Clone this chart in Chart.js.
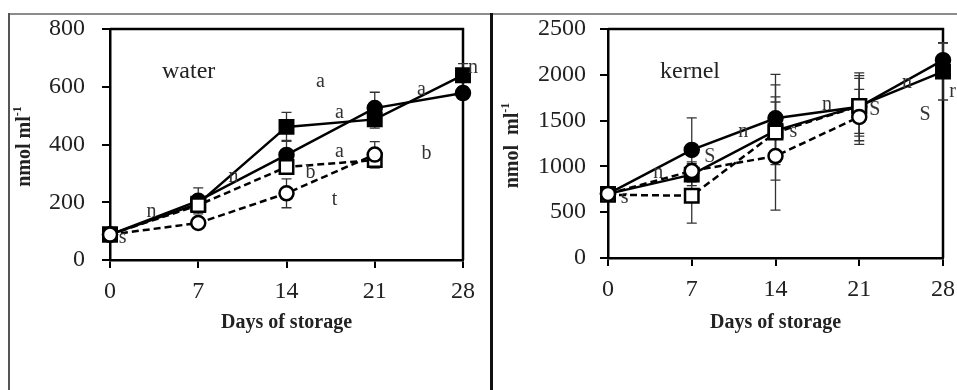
<html>
<head>
<meta charset="utf-8">
<title>water / kernel</title>
<style>
  body { margin: 0; background: #fff; }
  #wrap { position: relative; width: 957px; height: 390px; overflow: hidden; background: #fff; }
  #waterChart { position: absolute; left: 0; top: 0; }
  #kernelChart { position: absolute; left: 480px; top: 0; }
  .frame { position: absolute; }
</style>
</head>
<body>
<div id="wrap">
  <canvas id="waterChart" width="480" height="390"></canvas>
  <canvas id="kernelChart" width="477" height="390"></canvas>
  <div class="frame" style="left:9px;top:13px;width:948px;height:2px;background:#8c8c8c"></div>
  <div class="frame" style="left:8px;top:13px;width:2px;height:377px;background:#555"></div>
  <div class="frame" style="left:490px;top:13px;width:3px;height:377px;background:#111"></div>
</div>
<script src="https://cdn.jsdelivr.net/npm/chart.js"></script>
<script>
// days on the x axis
var days = [0, 7, 14, 21, 28];

// water panel (nmol ml-1)
var waterFilledSquare = [88, 195, 461, 487, 640];
var waterFilledSquareErr = [10, 30, 50, 30, 40];
var waterFilledCircle = [88, 205, 364, 526, 578];
var waterFilledCircleErr = [10, 45, 50, 55, 20];
var waterOpenSquare = [88, 190, 322, 346];
var waterOpenSquareErr = [8, 25, 20, 27];
var waterOpenCircle = [88, 128, 231, 365];
var waterOpenCircleErr = [8, 15, 50, 45];

// kernel panel (nmol ml-1)
var kernelFilledSquare = [700, 910, 1390, 1660, 2035];
var kernelFilledSquareErr = [60, 120, 370, 300, 310];
var kernelFilledCircle = [700, 1180, 1525, 1650, 2160];
var kernelFilledCircleErr = [60, 350, 480, 370, 190];
var kernelOpenSquare = [690, 680, 1370, 1660];
var kernelOpenSquareErr = [40, 300, 520, 330];
var kernelOpenCircle = [700, 950, 1113, 1540];
var kernelOpenCircleErr = [40, 100, 590, 300];

// significance letters: [text, day, value]
var waterLetters = [
  ["a", 16.7, 616], ["a", 18.2, 509], ["a", 18.2, 374], ["b", 25.1, 367],
  ["a", 24.7, 589], ["n", 28.8, 665], ["b", 15.9, 301], ["t", 17.8, 208],
  ["n", 3.3, 166], ["s", 1.0, 76], ["n", 9.8, 287]
];
var kernelLetters = [
  ["n", 11.3, 1376], ["S", 8.5, 1103], ["n", 4.2, 928], ["s", 1.4, 655],
  ["n", 18.3, 1670], ["S", 22.3, 1616], ["S", 26.5, 1561], ["r", 28.8, 1812],
  ["s", 15.5, 1376], ["n", 25.0, 1910]
];

var serif = '"Liberation Serif", "Times New Roman", serif';

function series(values, errors, shape, filled, dashed, order) {
  return {
    data: values.map(function (v, i) { return { x: days[i], y: v }; }),
    errors: errors,
    showLine: true,
    borderColor: "#000",
    borderWidth: 2.5,
    borderDash: dashed ? [7, 4] : [],
    pointStyle: shape,
    pointRadius: shape == "rect" ? 9.5 : 7,
    pointBorderWidth: 2.5,
    pointBackgroundColor: filled ? "#000" : "#fff",
    pointBorderColor: "#000",
    clip: false,
    order: order
  };
}

var errorBars = {
  id: "errorBars",
  beforeDatasetsDraw: function (chart) {
    var ctx = chart.ctx, xs = chart.scales.x, ys = chart.scales.y;
    var a = chart.chartArea;
    ctx.save();
    // box around the plot
    ctx.strokeStyle = "#000";
    ctx.lineWidth = 2.5;
    ctx.beginPath();
    ctx.moveTo(a.left, a.top); ctx.lineTo(a.right, a.top); ctx.lineTo(a.right, a.bottom);
    ctx.stroke();
    ctx.strokeStyle = "#333";
    ctx.lineWidth = 1.3;
    chart.data.datasets.forEach(function (ds) {
      ds.data.forEach(function (p, i) {
        var e = ds.errors[i];
        if (!e) return;
        var x = xs.getPixelForValue(p.x);
        var y1 = ys.getPixelForValue(p.y - e), y2 = ys.getPixelForValue(p.y + e);
        ctx.beginPath();
        ctx.moveTo(x, y1); ctx.lineTo(x, y2);
        ctx.moveTo(x - 5, y1); ctx.lineTo(x + 5, y1);
        ctx.moveTo(x - 5, y2); ctx.lineTo(x + 5, y2);
        ctx.stroke();
      });
    });
    ctx.restore();
  }
};

function textPlugin(panelName, letters, yTitleX, yTitleSpace) {
  return {
    id: "texts",
    afterDraw: function (chart) {
      var ctx = chart.ctx, xs = chart.scales.x, ys = chart.scales.y;
      var a = chart.chartArea;
      ctx.save();
      ctx.fillStyle = "#222";
      ctx.textBaseline = "middle";
      ctx.font = "24px " + serif;
      ctx.textAlign = "left";
      ctx.fillText(panelName, a.left + 52, 72);

      ctx.font = "20px " + serif;
      ctx.textAlign = "center";
      ctx.fillStyle = "#333";
      letters.forEach(function (l) {
        ctx.fillText(l[0], xs.getPixelForValue(l[1]), ys.getPixelForValue(l[2]));
      });

      ctx.fillStyle = "#222";
      ctx.font = "bold 20px " + serif;
      ctx.fillText("Days of storage", (a.left + a.right) / 2, 323);

      // y title with superscript
      ctx.translate(yTitleX, (a.top + a.bottom) / 2 + 2);
      ctx.rotate(-Math.PI / 2);
      var main = "nmol" + yTitleSpace + "ml";
      ctx.font = "bold 20px " + serif;
      var w1 = ctx.measureText(main).width;
      ctx.font = "bold 12px " + serif;
      var w2 = ctx.measureText("-1").width;
      var start = -(w1 + w2) / 2;
      ctx.textAlign = "left";
      ctx.font = "bold 20px " + serif;
      ctx.fillText(main, start, 0);
      ctx.font = "bold 12px " + serif;
      ctx.fillText("-1", start + w1, -7);
      ctx.restore();
    }
  };
}

function axis(min, max, step, size, pad, horizontal) {
  return {
    type: "linear",
    min: min,
    max: max,
    ticks: {
      stepSize: step,
      padding: pad,
      color: "#222",
      font: { family: serif, size: 24 },
      callback: function (v) { return String(v); }
    },
    grid: { drawOnChartArea: false, tickLength: 8, color: "#000", lineWidth: 2 },
    border: { color: "#000", width: 2.5 },
    afterFit: function (s) {
      if (horizontal) {
        s.height = size;
        s.paddingLeft = 0;
        s.paddingRight = 0;
      } else {
        s.width = size;
        s.paddingTop = 0;
        s.paddingBottom = 0;
      }
    }
  };
}

new Chart(document.getElementById("waterChart"), {
  type: "scatter",
  data: {
    datasets: [
      series(waterFilledSquare, waterFilledSquareErr, "rect", true, false, 4),
      series(waterFilledCircle, waterFilledCircleErr, "circle", true, false, 3),
      series(waterOpenSquare, waterOpenSquareErr, "rect", false, true, 2),
      series(waterOpenCircle, waterOpenCircleErr, "circle", false, true, 1)
    ]
  },
  options: {
    responsive: false,
    animation: false,
    layout: { padding: { top: 29, right: 17, left: 0, bottom: 0 } },
    plugins: { legend: { display: false }, tooltip: { enabled: false } },
    scales: {
      x: axis(0, 28, 7, 130, 9, true),
      y: axis(0, 800, 200, 110, 17, false)
    }
  },
  plugins: [errorBars, textPlugin("water", waterLetters, 25, " ")]
});

new Chart(document.getElementById("kernelChart"), {
  type: "scatter",
  data: {
    datasets: [
      series(kernelFilledSquare, kernelFilledSquareErr, "rect", true, false, 4),
      series(kernelFilledCircle, kernelFilledCircleErr, "circle", true, false, 3),
      series(kernelOpenSquare, kernelOpenSquareErr, "rect", false, true, 2),
      series(kernelOpenCircle, kernelOpenCircleErr, "circle", false, true, 1)
    ]
  },
  options: {
    responsive: false,
    animation: false,
    layout: { padding: { top: 29, right: 14, left: 0, bottom: 0 } },
    plugins: { legend: { display: false }, tooltip: { enabled: false } },
    scales: {
      x: axis(0, 28, 7, 132, 9, true),
      y: axis(0, 2500, 500, 128, 14, false)
    }
  },
  plugins: [errorBars, textPlugin("kernel", kernelLetters, 33, "  ")]
});
</script>
</body>
</html>
